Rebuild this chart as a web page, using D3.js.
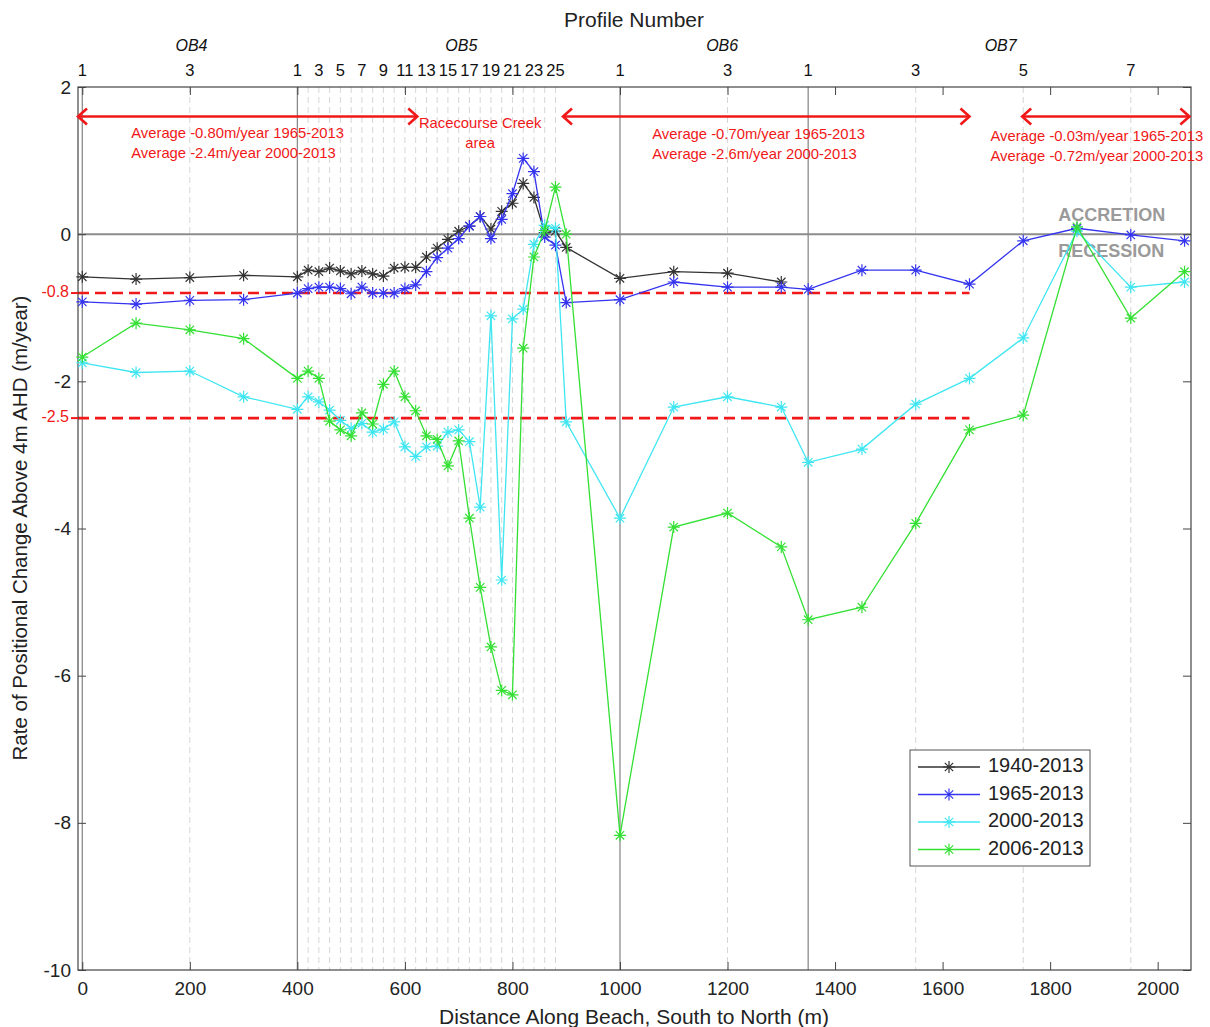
<!DOCTYPE html>
<html>
<head>
<meta charset="utf-8">
<script src="https://cdn.jsdelivr.net/npm/d3@7"></script>
<style>
body { margin: 0; background: #fff; }
text { font-family: "Liberation Sans", Arial, sans-serif; }
</style>
</head>
<body>
<svg id="chart" width="1210" height="1027"></svg>
<script>
// profile positions along the beach (m)
var distance = [0, 100, 200, 300,
  400, 420, 440, 460, 480, 500, 520, 540, 560, 580, 600, 620, 640, 660, 680, 700, 720, 740, 760, 780, 800, 820, 840, 860, 880, 900,
  1000, 1100, 1200, 1300,
  1350, 1450, 1550, 1650, 1750, 1850, 1950, 2050];

var rate1940 = [-0.58, -0.61, -0.59, -0.56,
  -0.58, -0.49, -0.51, -0.46, -0.50, -0.54, -0.50, -0.54, -0.57, -0.46, -0.45, -0.45, -0.31, -0.19, -0.07, 0.04, 0.11, 0.24, 0.07, 0.31, 0.42, 0.69, 0.50, 0.02, 0.04, -0.18,
  -0.60, -0.51, -0.53, -0.65,
  null, null, null, null, null, null, null, null];

var rate1965 = [-0.92, -0.95, -0.90, -0.89,
  -0.80, -0.74, -0.72, -0.72, -0.74, -0.81, -0.72, -0.80, -0.80, -0.80, -0.74, -0.69, -0.51, -0.32, -0.19, -0.06, 0.11, 0.24, -0.06, 0.20, 0.55, 1.03, 0.85, -0.04, -0.15, -0.93,
  -0.89, -0.65, -0.72, -0.72,
  -0.75, -0.49, -0.49, -0.68, -0.09, 0.08, -0.01, -0.09];

var rate2000 = [-1.75, -1.88, -1.86, -2.21,
  -2.38, -2.21, -2.28, -2.39, -2.53, -2.64, -2.57, -2.69, -2.65, -2.55, -2.89, -3.02, -2.89, -2.88, -2.69, -2.66, -2.82, -3.71, -1.11, -4.70, -1.15, -1.02, -0.14, 0.12, 0.08, -2.55,
  -3.86, -2.35, -2.21, -2.35,
  -3.10, -2.92, -2.31, -1.96, -1.41, 0.04, -0.72, -0.65];

var rate2006 = [-1.67, -1.21, -1.30, -1.42,
  -1.96, -1.86, -1.96, -2.54, -2.66, -2.74, -2.43, -2.58, -2.04, -1.86, -2.21, -2.40, -2.74, -2.79, -3.15, -2.81, -3.86, -4.80, -5.61, -6.20, -6.26, -1.55, -0.31, 0.05, 0.64, 0.00,
  -8.17, -3.98, -3.79, -4.25,
  -5.24, -5.07, -3.93, -2.66, -2.46, 0.10, -1.14, -0.51];

var seriesNames = ['1940-2013', '1965-2013', '2000-2013', '2006-2013'];
var seriesColors = ['#333333', '#3434f0', '#3fe6f2', '#33e033'];
var seriesValues = [rate1940, rate1965, rate2000, rate2006];

// top axis: profile numbers
var profileLabels = ['1', '3', '1', '3', '5', '7', '9', '11', '13', '15', '17', '19', '21', '23', '25', '1', '3', '1', '3', '5', '7'];
var profilePos = [0, 200, 400, 440, 480, 520, 560, 600, 640, 680, 720, 760, 800, 840, 880, 1000, 1200, 1350, 1550, 1750, 1950];
var groupNames = ['OB4', 'OB5', 'OB6', 'OB7'];
var groupPos = [203, 705, 1190, 1708];
var groupStarts = [0, 400, 1000, 1350];
var minorGrid = [200, 420, 440, 460, 480, 500, 520, 540, 560, 580, 600, 620, 640, 660, 680, 700, 720, 740, 760, 780, 800, 820, 840, 860, 880, 1200, 1550, 1750, 1950];

var xTicks = [0, 200, 400, 600, 800, 1000, 1200, 1400, 1600, 1800, 2000];
var yTicks = [-10, -8, -6, -4, -2, 0, 2];

// thresholds and average annotations
var thresholds = [-0.8, -2.5];
var thresholdEnd = 1650;
var arrowSpans = [[-8, 623], [894, 1650], [1748, 2059]];
var arrowLevel = 1.6;
var avgTexts = [
  ['Average -0.80m/year 1965-2013', 'Average -2.4m/year 2000-2013'],
  ['Average -0.70m/year 1965-2013', 'Average -2.6m/year 2000-2013'],
  ['Average -0.03m/year 1965-2013', 'Average -0.72m/year 2000-2013']
];
var avgTextX = [91, 1060, 1689];
var avgTextY = [[1.36, 1.09], [1.35, 1.08], [1.32, 1.05]];

var svg = d3.select('#chart');
var plotL = 78, plotR = 1191, plotT = 87, plotB = 970;

var x = d3.scaleLinear().domain([-8, 2062]).range([plotL, plotR]);
var y = d3.scaleLinear().domain([-10, 2]).range([plotB, plotT]);

// grid
svg.selectAll('.minor').data(minorGrid).enter().append('line')
  .attr('x1', function(d) { return x(d); }).attr('x2', function(d) { return x(d); })
  .attr('y1', plotT).attr('y2', plotB)
  .attr('stroke', '#d6d6d6').attr('stroke-width', 1).attr('stroke-dasharray', '6,4');

svg.selectAll('.major').data(groupStarts).enter().append('line')
  .attr('x1', function(d) { return x(d); }).attr('x2', function(d) { return x(d); })
  .attr('y1', plotT).attr('y2', plotB)
  .attr('stroke', '#8c8c8c').attr('stroke-width', 1.3);

svg.append('line')
  .attr('x1', plotL).attr('x2', plotR).attr('y1', y(0)).attr('y2', y(0))
  .attr('stroke', '#8c8c8c').attr('stroke-width', 2);

// red threshold lines
svg.selectAll('.thr').data(thresholds).enter().append('line')
  .attr('x1', plotL).attr('x2', x(thresholdEnd))
  .attr('y1', function(d) { return y(d); }).attr('y2', function(d) { return y(d); })
  .attr('stroke', '#f01818').attr('stroke-width', 2.6).attr('stroke-dasharray', '11,6');

// axes
var xAxis = svg.append('g').attr('transform', 'translate(0,' + plotB + ')')
  .call(d3.axisBottom(x).tickValues(xTicks).tickFormat(d3.format('d')).tickSizeInner(-8).tickSizeOuter(0).tickPadding(12));
var xAxisTop = svg.append('g').attr('transform', 'translate(0,' + plotT + ')')
  .call(d3.axisTop(x).tickValues(xTicks).tickSizeInner(-8).tickSizeOuter(0).tickFormat(''));
var yAxis = svg.append('g').attr('transform', 'translate(' + plotL + ',0)')
  .call(d3.axisLeft(y).tickValues(yTicks).tickFormat(d3.format('d')).tickSizeInner(-8).tickSizeOuter(0).tickPadding(7));
var yAxisRight = svg.append('g').attr('transform', 'translate(' + plotR + ',0)')
  .call(d3.axisRight(y).tickValues(yTicks).tickSizeInner(-8).tickSizeOuter(0).tickFormat(''));

[xAxis, xAxisTop, yAxis, yAxisRight].forEach(function(g) {
  g.select('.domain').remove();
  g.selectAll('line').attr('stroke', '#444');
  g.selectAll('text').attr('font-size', 19).attr('fill', '#222');
});
yAxis.selectAll('text').text(function(d) { return d < 0 ? '-' + Math.abs(d) : d; });

svg.append('rect').attr('x', plotL).attr('y', plotT).attr('width', plotR - plotL).attr('height', plotB - plotT)
  .attr('fill', 'none').attr('stroke', '#444').attr('stroke-width', 1.2);

// red y labels
svg.selectAll('.thrlab').data(thresholds).enter().append('text')
  .attr('x', plotL - 9).attr('y', function(d) { return y(d); })
  .attr('text-anchor', 'end').attr('dominant-baseline', 'middle')
  .attr('font-size', 16).attr('fill', '#f01818')
  .text(function(d) { return d; });
svg.selectAll('.thrtick').data(thresholds).enter().append('line')
  .attr('x1', plotL - 7).attr('x2', plotL)
  .attr('y1', function(d) { return y(d); }).attr('y2', function(d) { return y(d); })
  .attr('stroke', '#f01818').attr('stroke-width', 2);

// top profile labels
svg.selectAll('.prof').data(profileLabels).enter().append('text')
  .attr('x', function(d, i) { return x(profilePos[i]); })
  .attr('y', 76).attr('text-anchor', 'middle').attr('font-size', 16.5).attr('fill', '#111')
  .text(function(d) { return d; });
svg.selectAll('.grp').data(groupNames).enter().append('text')
  .attr('x', function(d, i) { return x(groupPos[i]); })
  .attr('y', 51).attr('text-anchor', 'middle').attr('font-size', 16).attr('font-style', 'italic').attr('fill', '#111')
  .text(function(d) { return d; });

svg.append('text').attr('x', 634).attr('y', 27).attr('text-anchor', 'middle')
  .attr('font-size', 21).attr('fill', '#222').text('Profile Number');
svg.append('text').attr('x', 634).attr('y', 1024).attr('text-anchor', 'middle')
  .attr('font-size', 21).attr('fill', '#222').text('Distance Along Beach, South to North (m)');
svg.append('text').attr('transform', 'translate(27,528) rotate(-90)').attr('text-anchor', 'middle')
  .attr('font-size', 20.5).attr('fill', '#222').text('Rate of Positional Change Above 4m AHD (m/year)');

// arrows
var red = '#f01818';
arrowSpans.forEach(function(s) {
  var x0 = Math.max(x(s[0]), plotL), x1 = x(s[1]), yy = y(arrowLevel);
  svg.append('line').attr('x1', x0).attr('x2', x1).attr('y1', yy).attr('y2', yy)
    .attr('stroke', red).attr('stroke-width', 2.6);
  svg.append('path').attr('d', 'M' + (x0 + 9) + ',' + (yy - 8) + 'L' + x0 + ',' + yy + 'L' + (x0 + 9) + ',' + (yy + 8))
    .attr('fill', 'none').attr('stroke', red).attr('stroke-width', 2.6);
  svg.append('path').attr('d', 'M' + (x1 - 9) + ',' + (yy - 8) + 'L' + x1 + ',' + yy + 'L' + (x1 - 9) + ',' + (yy + 8))
    .attr('fill', 'none').attr('stroke', red).attr('stroke-width', 2.6);
});

avgTexts.forEach(function(lines, i) {
  lines.forEach(function(t, j) {
    svg.append('text').attr('x', x(avgTextX[i])).attr('y', y(avgTextY[i][j]))
      .attr('dominant-baseline', 'middle').attr('font-size', 14.8).attr('fill', red).text(t);
  });
});
svg.append('text').attr('x', x(740)).attr('y', y(1.5)).attr('text-anchor', 'middle')
  .attr('dominant-baseline', 'middle').attr('font-size', 14.8).attr('fill', red).text('Racecourse Creek');
svg.append('text').attr('x', x(740)).attr('y', y(1.23)).attr('text-anchor', 'middle')
  .attr('dominant-baseline', 'middle').attr('font-size', 14.8).attr('fill', red).text('area');

svg.append('text').attr('x', x(1815)).attr('y', y(0.25)).attr('dominant-baseline', 'middle')
  .attr('font-size', 18).attr('font-weight', 'bold').attr('fill', '#9a9a9a').text('ACCRETION');
svg.append('text').attr('x', x(1815)).attr('y', y(-0.25)).attr('dominant-baseline', 'middle')
  .attr('font-size', 18).attr('font-weight', 'bold').attr('fill', '#9a9a9a').text('RECESSION');

// series
var star = 'M-6,0H6M0,-6V6M-4.2,-4.2L4.2,4.2M-4.2,4.2L4.2,-4.2';
var line = d3.line().x(function(d) { return x(d[0]); }).y(function(d) { return y(d[1]); });

seriesValues.forEach(function(vals, i) {
  var pts = [];
  vals.forEach(function(v, j) { if (v !== null) pts.push([distance[j], v]); });
  var g = svg.append('g');
  g.append('path').attr('d', line(pts)).attr('fill', 'none')
    .attr('stroke', seriesColors[i]).attr('stroke-width', 1.3);
  g.selectAll('path.m').data(pts).enter().append('path').attr('class', 'm')
    .attr('d', star).attr('transform', function(d) { return 'translate(' + x(d[0]) + ',' + y(d[1]) + ')'; })
    .attr('fill', 'none').attr('stroke', seriesColors[i]).attr('stroke-width', 1.2);
});

// legend
var lg = svg.append('g').attr('transform', 'translate(910,750)');
lg.append('rect').attr('width', 180).attr('height', 116).attr('fill', '#fff')
  .attr('stroke', '#555').attr('stroke-width', 1);
seriesNames.forEach(function(n, i) {
  var yy = 17 + i * 27.5;
  lg.append('line').attr('x1', 8).attr('x2', 70).attr('y1', yy).attr('y2', yy)
    .attr('stroke', seriesColors[i]).attr('stroke-width', 1.3);
  lg.append('path').attr('d', star).attr('transform', 'translate(39,' + yy + ')')
    .attr('fill', 'none').attr('stroke', seriesColors[i]).attr('stroke-width', 1.2);
  lg.append('text').attr('x', 78).attr('y', yy).attr('dominant-baseline', 'middle')
    .attr('font-size', 20).attr('fill', '#222').text(n);
});
</script>
</body>
</html>
